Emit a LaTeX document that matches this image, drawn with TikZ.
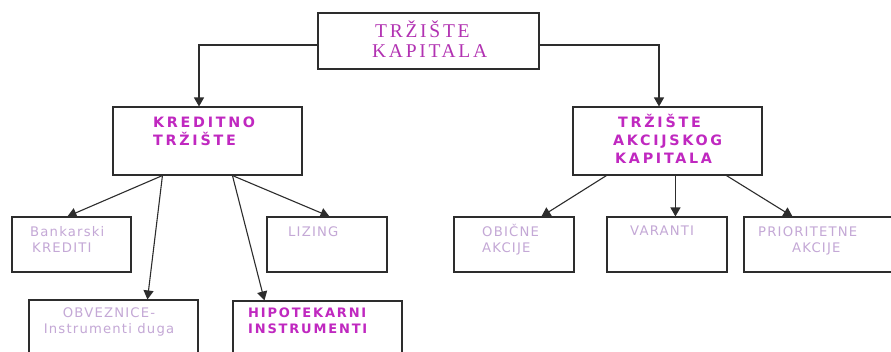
\documentclass[tikz,border=0pt]{standalone}
\usepackage{fontspec}
\usetikzlibrary{arrows.meta}
\newfontfamily\topfont{Liberation Serif}[LetterSpace=14]
\newfontfamily\headfont{DejaVu Sans}[LetterSpace=19]
\newfontfamily\leaffont{DejaVu Sans}[LetterSpace=9]
\newfontfamily\hipfont{DejaVu Sans}[LetterSpace=14]
\definecolor{mag}{RGB}{192,40,192}
\definecolor{topmag}{RGB}{178,50,178}
\definecolor{lite}{RGB}{196,168,214}
\definecolor{edge}{RGB}{45,45,45}
\tikzset{
  box/.style={draw=edge, line width=1.1pt, fill=white, inner sep=0pt},
  conn/.style={draw=edge, line width=1.1pt, -{Triangle[width=10pt,length=9pt]}},
  txt/.style={inner sep=0pt, anchor=base west, align=left},
  toptxt/.style={txt, text=topmag, font=\topfont\fontsize{19.5}{20}\selectfont},
  headtxt/.style={txt, text=mag, font=\headfont\bfseries\fontsize{14.3}{18}\selectfont},
  leaftxt/.style={txt, text=lite, font=\leaffont\fontsize{13.2}{16}\selectfont},
  hiptxt/.style={txt, text=mag, font=\hipfont\bfseries\fontsize{13}{16}\selectfont},
}
\begin{document}
\begin{tikzpicture}[x=1pt, y=-1pt]
\path[use as bounding box] (0,0) rectangle (891,351);
\clip (0,0) rectangle (891,351);
\fill[white] (0,0) rectangle (891,351);
% boxes
\node[box, minimum width=221pt, minimum height=56pt] (top) at (428.5,41) {};
\node[box, minimum width=189pt, minimum height=68pt] (kred) at (207.5,141) {};
\node[box, minimum width=189pt, minimum height=68pt] (akc) at (667.5,141) {};
\node[box, minimum width=119pt, minimum height=55pt] (bank) at (71.5,244.5) {};
\node[box, minimum width=120pt, minimum height=55pt] (liz) at (327,244.5) {};
\node[box, minimum width=169pt, minimum height=70pt] (obv) at (113.5,335) {};
\node[box, minimum width=169pt, minimum height=70pt] (hip) at (317.5,336) {};
\node[box, minimum width=120pt, minimum height=55pt] (obi) at (514,244.5) {};
\node[box, minimum width=120pt, minimum height=55pt] (var) at (667,244.5) {};
\node[box, minimum width=156pt, minimum height=55pt] (pri) at (822,244.5) {};
% texts (base anchor = baseline of the last line)
\node[toptxt] (ttop) at (372,57) {\hspace*{3pt}TRŽIŠTE\\KAPITALA};
\node[headtxt] (tkred) at (153,145) {KREDITNO\\TRŽIŠTE};
\node[headtxt] (takc) at (613,163) {\hspace*{5pt}TRŽIŠTE\\AKCIJSKOG\\\hspace*{2pt}KAPITALA};
\node[leaftxt] (tbank) at (30,252) {Bankarski\\\hspace*{2pt}KREDITI};
\node[leaftxt] (tliz) at (288,236) {LIZING};
\node[leaftxt, anchor=base, align=center] (tobv) at (109,333) {OBVEZNICE-\\Instrumenti duga};
\node[hiptxt] (thip) at (248,333) {HIPOTEKARNI\\INSTRUMENTI};
\node[leaftxt] (tobi) at (482,252) {OBIČNE\\AKCIJE};
\node[leaftxt] (tvar) at (630,235) {VARANTI};
\node[leaftxt] (tpri) at (758,252) {PRIORITETNE\\\hspace*{34pt}AKCIJE};
% connectors
\draw[conn] ([yshift=-4pt]top.west) -| ([xshift=-8.5pt]kred.north);
\draw[conn] ([yshift=-4pt]top.east) -| ([xshift=-8.5pt]akc.north);
\draw[conn] ([xshift=50pt]kred.south west) -- ([xshift=56pt]bank.north west);
\draw[conn] ([xshift=50pt]kred.south west) -- ([xshift=119pt]obv.north west);
\draw[conn] ([xshift=120pt]kred.south west) -- ([xshift=32pt]hip.north west);
\draw[conn] ([xshift=120pt]kred.south west) -- ([xshift=63pt]liz.north west);
\draw[conn] ([xshift=34pt]akc.south west) -- ([xshift=88pt]obi.north west);
\draw[conn] ([xshift=103pt]akc.south west) -- ([xshift=69pt]var.north west);
\draw[conn] ([xshift=154pt]akc.south west) -- ([xshift=49pt]pri.north west);
\end{tikzpicture}
\end{document}
